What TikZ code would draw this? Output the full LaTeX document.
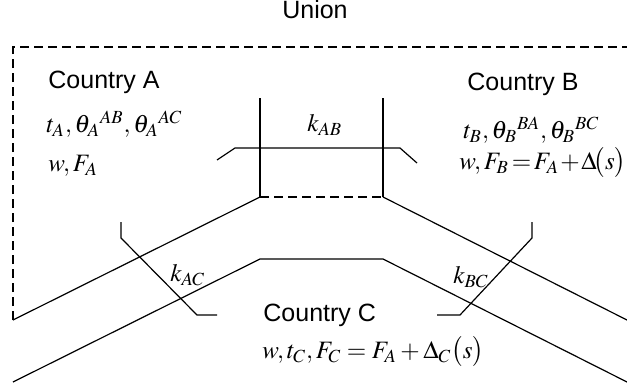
\documentclass[tikz,border=0pt]{standalone}
\usepackage{mathptmx}
\usepackage[no-math]{fontspec}
\setsansfont{Liberation Sans}
\usepackage{tikz}
\usetikzlibrary{positioning}

\begin{document}
\begin{tikzpicture}[x=0.5pt,y=-0.5pt,
  font=\fontsize{12.5}{15}\selectfont,
  txt/.style={inner sep=0pt,anchor=west},
  country/.style={txt,font=\fontsize{12.5}{15}\selectfont\sffamily},
  border/.style={line width=0.6pt},
  union/.style={line width=1pt,dash pattern=on 4.5pt off 2.5pt}]
\useasboundingbox (0,0) rectangle (627,391);
% union boundary
\draw[union] (13,320) -- (13,47) -- (627,47);
\node[inner sep=0pt,font=\fontsize{12.5}{15}\selectfont\sffamily] (uni) at (315,10) {Union};
% upper and lower border lines
\draw[border] (13,320) -- (260,197);
\draw[union] (260,197) -- (383,197);
\draw[border] (383,197) -- (627,320);
\draw[border] (13,382) -- (260,259) -- (383,259) -- (627,382);
% k_AB crossing
\draw[border] (260,98) -- (260,197);
\draw[border] (383,98) -- (383,197);
\draw[border] (217,160) -- (235,148) -- (400,148) -- (417,163);
% k_AC and k_BC crossings
\draw[border] (121,222) -- (121,238) -- (197,315) -- (217,315);
\draw[border] (532,222) -- (532,238) -- (460,315) -- (437,315);
% country texts
\node[country] (ca) at (48,82) {Country A};
\node[txt] (ca1) at (46,124) {$t_A,\theta_A{}^{AB},\theta_A{}^{AC}$};
\node[txt] (ca2) at (48,166) {$w,F_A$};
\node[country] (cb) at (467,84) {Country B};
\node[txt] (cb1) at (463,130) {$t_B,\theta_B{}^{BA},\theta_B{}^{BC}$};
\node[txt] (cb2) at (459,163)
  {$\thickmuskip=2mu\medmuskip=1mu w,F_B=F_A+\Delta\!\bigl(s\bigr)$};
\node[country] (cc) at (263,315) {Country C};
\node[txt] (cc1) at (262,352) {$w,t_C,F_C=F_A+\Delta_C\bigl(s\bigr)$};
% tariff labels
\node[txt] (kab) at (307,125) {$k_{AB}$};
\node[txt] (kac) at (170,275) {$k_{AC}$};
\node[txt] (kbc) at (453,277) {$k_{BC}$};
\end{tikzpicture}
\end{document}
